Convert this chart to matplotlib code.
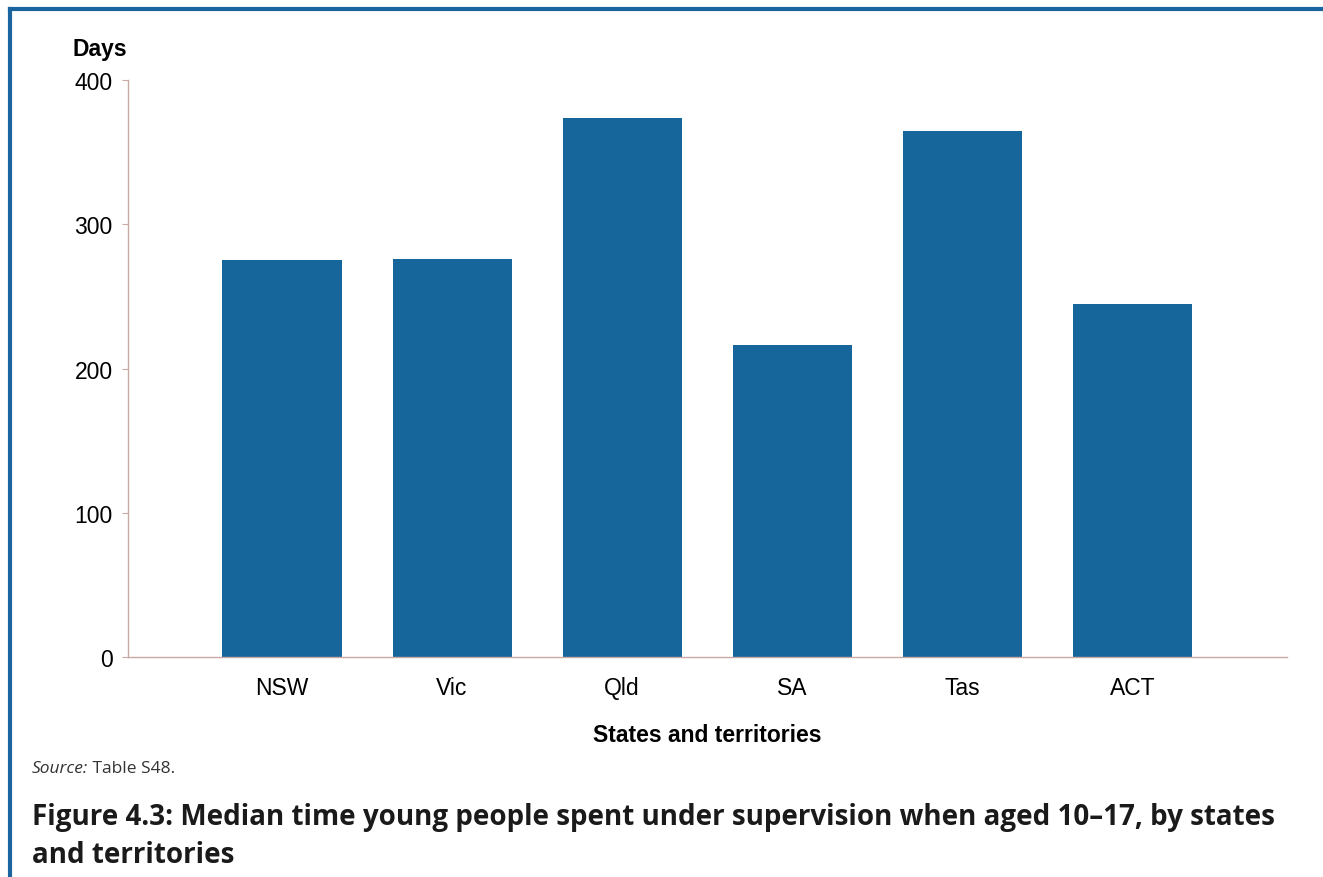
import numpy as np
import matplotlib
matplotlib.use("Agg")
import matplotlib.pyplot as plt
from matplotlib.lines import Line2D

# Median days under supervision, by state/territory
states = ["NSW", "Vic", "Qld", "SA", "Tas", "ACT"]
days = [275, 276, 374, 216, 365, 245]
yticks = [0, 100, 200, 300, 400]

bar_color = "#16669b"
axis_color = "#c9a9a6"
frame_color = "#1a64a0"

plt.rcParams["font.family"] = ["Liberation Sans", "DejaVu Sans"]

fig = plt.figure(figsize=(13.23, 8.78), dpi=100)
ax = fig.add_axes([0.0967, 0.2506, 0.8761, 0.6571])

x = np.arange(len(states))
ax.bar(x, days, width=0.7, color=bar_color, zorder=2)

ax.set_xlim(-0.906, 5.91)
ax.set_ylim(0, 400)
ax.set_yticks(yticks)
ax.set_yticklabels([str(v) for v in yticks], fontsize=16.5)
ax.set_xticks(x)
ax.set_xticklabels(states, fontsize=16.5)

for side in ["top", "right"]:
    ax.spines[side].set_visible(False)
for side in ["left", "bottom"]:
    ax.spines[side].set_color(axis_color)
    ax.spines[side].set_linewidth(1.0)
ax.tick_params(axis="y", length=4, color=axis_color, pad=7)
ax.tick_params(axis="x", length=0, pad=14)

ax.set_xlabel("States and territories", fontsize=16.5, fontweight="bold", labelpad=17)
fig.text(0.055, 0.944, "Days", fontsize=16.5, fontweight="bold", ha="left", va="center")

# source and caption
src = fig.text(0.0242, 0.1196, "Source:", fontsize=12.5, style="italic", family="Open Sans",
               color="#333333", ha="left", va="baseline")
ax.annotate(" Table S48.", xy=(1, 0), xycoords=src, fontsize=12.5, family="Open Sans",
            color="#333333", ha="left", va="bottom")
fig.text(0.0242, 0.0604,
         "Figure 4.3: Median time young people spent under supervision when aged 10\u201317, by states",
         fontsize=20, fontweight="bold", family="Open Sans", color="#1a1a1a",
         ha="left", va="baseline")
fig.text(0.0242, 0.0171, "and territories",
         fontsize=20, fontweight="bold", family="Open Sans", color="#1a1a1a",
         ha="left", va="baseline")

# blue frame on top and left
fig.add_artist(Line2D([0.0076, 1.0], [0.9886, 0.9886], color=frame_color, lw=3,
                      transform=fig.transFigure))
fig.add_artist(Line2D([0.0076, 0.0076], [0.0, 0.9886], color=frame_color, lw=3,
                      transform=fig.transFigure))

fig.savefig("out.png", dpi=100, facecolor="white")
